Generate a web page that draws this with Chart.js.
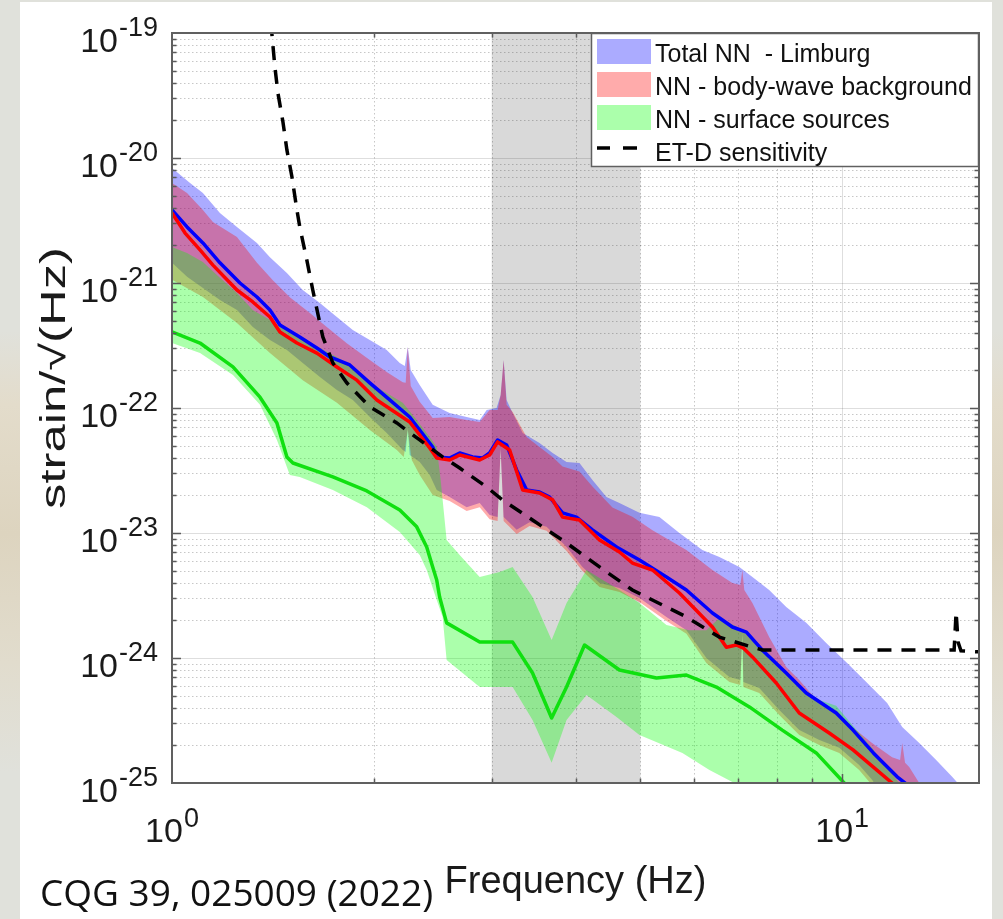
<!DOCTYPE html>
<html>
<head>
<meta charset="utf-8">
<script src="https://cdn.jsdelivr.net/npm/chart.js@4.4.1/dist/chart.umd.min.js"></script>
<style>
  html, body { margin: 0; padding: 0; width: 1003px; height: 919px; overflow: hidden; }
  body {
    background: linear-gradient(180deg, #e0e1db 0%, #e0e1db 36%, #e3dccb 44%, #ddd4bf 58%, #e1dccd 72%, #e0e1db 84%, #e0e1db 100%);
  }
  #panel { position: absolute; left: 20px; top: 2px; width: 972px; height: 917px; background: #ffffff; }
  #plot { position: absolute; left: 0; top: 0; }
</style>
</head>
<body>
<div id="panel"></div>
<canvas id="plot" width="1003" height="919"></canvas>
<script>
// ---- axis ranges and tick exponents ----
const X_MIN = 1, X_MAX = 16;
const Y_MIN = 1e-25, Y_MAX = 1e-19;
const xTickExps = [0, 1];
const yTickExps = [-25, -24, -23, -22, -21, -20, -19];
const bandHz = [3, 5];           // shaded frequency window

const legendLabels = ['Total NN  - Limburg', 'NN - body-wave background', 'NN - surface sources', 'ET-D sensitivity'];

// ---- Total NN (Limburg): median and band ----
const totalHz = [1.0, 1.053, 1.112, 1.179, 1.263, 1.339, 1.400, 1.449, 1.551, 1.645, 1.720, 1.842, 1.973, 2.113,
  2.263, 2.342, 2.449, 2.483, 2.596, 2.687, 2.809, 2.907, 2.978, 3.061, 3.157, 3.268, 3.382, 3.535, 3.660, 3.826,
  4.013, 4.240, 4.605, 4.983, 5.467, 5.855, 6.403, 6.857, 7.196, 7.597, 8.251, 8.838, 9.796, 10.38, 11.13, 12.08, 12.63];
const totalMedian = [3.84e-21, 2.81e-21, 2.09e-21, 1.45e-21, 1.0e-21, 7.73e-22, 6.08e-22, 4.61e-22, 3.70e-22, 3.02e-22,
  2.56e-22, 2.21e-22, 1.59e-22, 1.16e-22, 8.47e-23, 6.67e-23, 4.88e-23, 4.06e-23, 3.98e-23, 4.37e-23, 4.06e-23, 3.98e-23,
  4.37e-23, 5.55e-23, 5.06e-23, 3.19e-23, 2.21e-23, 2.13e-23, 1.94e-23, 1.45e-23, 1.34e-23, 1.06e-23, 7.73e-24, 6.08e-24,
  4.45e-24, 3.50e-24, 2.29e-24, 1.77e-24, 1.61e-24, 1.16e-24, 7.59e-25, 5.25e-25, 3.63e-25, 2.65e-25, 1.74e-25, 1.12e-25, 9.3e-26];

const totalUpperHz = [1.0, 1.064, 1.112, 1.179, 1.250, 1.339, 1.400, 1.484, 1.567, 1.662, 1.762, 1.861, 1.973, 2.091,
  2.187, 2.225, 2.248, 2.271, 2.342, 2.449, 2.596, 2.752, 2.878, 2.948, 3.050, 3.093, 3.125, 3.157, 3.223, 3.336, 3.535,
  3.698, 3.879, 4.055, 4.240, 4.449, 4.652, 4.983, 5.337, 5.716, 6.185, 6.558, 7.023, 7.346, 7.781, 8.251, 8.838, 9.466,
  10.17, 10.90, 11.67, 12.29, 13.03, 13.81, 14.59, 15.20];
const totalUpper = [8.32e-21, 6.31e-21, 5.25e-21, 3.63e-21, 2.81e-21, 2.09e-21, 1.61e-21, 1.20e-21, 8.79e-22, 6.92e-22,
  5.35e-22, 4.21e-22, 3.50e-22, 2.91e-22, 2.29e-22, 2.17e-22, 3.08e-22, 2.01e-22, 1.53e-22, 1.06e-22, 9.12e-23, 8.47e-23,
  8.02e-23, 9.66e-23, 1.0e-22, 1.27e-22, 2.42e-22, 1.16e-22, 9.12e-23, 6.31e-23, 5.25e-23, 4.37e-23, 3.70e-23, 3.63e-23,
  2.65e-23, 1.94e-23, 1.74e-23, 1.45e-23, 1.34e-23, 1.0e-23, 7.31e-24, 6.43e-24, 5.35e-24, 4.45e-24, 3.50e-24, 2.56e-24,
  1.91e-24, 1.32e-24, 9.12e-25, 6.31e-25, 4.37e-25, 2.81e-25, 2.09e-25, 1.53e-25, 1.12e-25, 8.8e-26];

const totalLowerHz = [1.0, 1.053, 1.112, 1.179, 1.250, 1.320, 1.400, 1.484, 1.567, 1.662, 1.762, 1.861, 1.973, 2.091,
  2.210, 2.232, 2.248, 2.263, 2.342, 2.424, 2.483, 2.596, 2.752, 2.878, 2.978, 3.061, 3.093, 3.125, 3.268, 3.416, 3.622,
  3.879, 4.097, 4.344, 4.652, 4.983, 5.467, 5.855, 6.270, 6.786, 7.047, 7.096, 7.120, 7.519, 8.055, 8.628, 9.242, 9.898,
  10.60, 11.08, 11.35];
const totalLower = [1.45e-21, 1.12e-21, 9.12e-22, 7.31e-22, 6.08e-22, 4.45e-22, 3.50e-22, 2.91e-22, 2.29e-22, 1.77e-22,
  1.39e-22, 1.16e-22, 8.47e-23, 6.31e-23, 4.61e-23, 4.45e-23, 6.92e-23, 4.21e-23, 3.70e-23, 2.91e-23, 2.21e-23, 1.94e-23,
  1.61e-23, 1.74e-23, 1.39e-23, 1.34e-23, 4.79e-23, 1.34e-23, 1.06e-23, 1.22e-23, 1.12e-23, 7.73e-24, 5.35e-24, 3.98e-24,
  3.63e-24, 3.02e-24, 2.13e-24, 1.67e-24, 1.0e-24, 7.05e-25, 6.67e-25, 1.585e-24, 6.43e-25, 5.75e-25, 3.84e-25, 2.65e-25,
  2.21e-25, 1.91e-25, 1.39e-25, 1.06e-25, 8.8e-26];

// ---- NN body-wave background: median and band ----
const bodyHz = [1.0, 1.046, 1.101, 1.151, 1.250, 1.320, 1.400, 1.449, 1.536, 1.645, 1.762, 1.887, 2.021, 2.263, 2.424,
  2.483, 2.596, 2.687, 2.878, 2.978, 3.061, 3.190, 3.336, 3.535, 3.698, 3.826, 4.055, 4.344, 4.652, 4.864, 5.211, 5.716,
  6.403, 6.717, 6.952, 7.12, 7.346, 7.973, 8.628, 9.564, 10.38, 11.13, 11.87, 12.16];
const bodyMedian = [3.63e-21, 2.51e-21, 1.84e-21, 1.39e-21, 8.79e-22, 7.05e-22, 5.35e-22, 4.06e-22, 3.31e-22, 2.75e-22,
  2.13e-22, 1.67e-22, 1.16e-22, 7.73e-23, 4.79e-23, 3.98e-23, 3.84e-23, 4.21e-23, 3.84e-23, 4.21e-23, 5.35e-23, 4.61e-23,
  2.21e-23, 2.09e-23, 1.84e-23, 1.34e-23, 1.27e-23, 8.79e-24, 7.05e-24, 5.75e-24, 5.06e-24, 3.31e-24, 1.77e-24, 1.22e-24,
  1.27e-24, 1.20e-24, 1.02e-24, 6.31e-25, 3.63e-25, 2.51e-25, 1.84e-25, 1.34e-25, 1.0e-25, 8.8e-26];

const bodyUpperHz = [1.0, 1.053, 1.112, 1.151, 1.250, 1.339, 1.414, 1.499, 1.606, 1.702, 1.823, 1.973, 2.091, 2.210,
  2.232, 2.248, 2.271, 2.342, 2.449, 2.596, 2.752, 2.878, 2.978, 3.061, 3.093, 3.125, 3.157, 3.223, 3.382, 3.535, 3.698,
  3.826, 4.055, 4.240, 4.542, 4.864, 5.211, 5.855, 6.403, 6.857, 7.047, 7.096, 7.144, 7.346, 7.781, 8.251, 8.628, 9.242,
  9.796, 10.35, 11.08, 11.87, 12.20, 12.29, 12.41, 12.59, 13.03, 13.25];
const bodyUpper = [6.31e-21, 5.25e-21, 3.84e-21, 3.08e-21, 2.33e-21, 1.45e-21, 1.05e-21, 7.7e-22, 5.75e-22, 4.45e-22,
  3.3e-22, 2.42e-22, 1.94e-22, 1.61e-22, 1.59e-22, 3.08e-22, 1.50e-22, 1.12e-22, 8.3e-23, 8.47e-23, 8.02e-23, 7.73e-23,
  9.66e-23, 9.66e-23, 1.27e-22, 2.42e-22, 1.06e-22, 9.29e-23, 5.86e-23, 4.88e-23, 4.06e-23, 3.4e-23, 3.1e-23, 2.35e-23,
  1.6e-23, 1.35e-23, 1.05e-23, 7.31e-24, 5.06e-24, 3.98e-24, 3.84e-24, 5.06e-24, 3.50e-24, 2.75e-24, 1.47e-24, 8.47e-25,
  6.67e-25, 4.37e-25, 3.84e-25, 2.81e-25, 2.09e-25, 1.61e-25, 1.53e-25, 2.09e-25, 1.45e-25, 1.34e-25, 1.0e-25, 8.8e-26];

const bodyLowerHz = [1.0, 1.112, 1.250, 1.400, 1.567, 1.762, 1.973, 2.165, 2.217, 2.248, 2.279, 2.342, 2.449, 2.596,
  2.752, 2.878, 2.978, 3.061, 3.093, 3.125, 3.268, 3.416, 3.622, 3.879, 4.097, 4.344, 4.652, 4.983, 5.467, 5.855, 6.270,
  6.786, 7.047, 7.096, 7.120, 7.519, 8.055, 8.628, 9.242, 9.898, 10.60, 11.08, 11.35];
const bodyLower = [1.06e-21, 7.73e-22, 4.79e-22, 2.75e-22, 1.67e-22, 1.10e-22, 6.67e-23, 4.61e-23, 4.06e-23, 6.67e-23,
  3.84e-23, 2.91e-23, 2.01e-23, 1.80e-23, 1.50e-23, 1.61e-23, 1.29e-23, 1.25e-23, 4.61e-23, 1.25e-23, 9.83e-24, 1.14e-23,
  1.04e-23, 7.18e-24, 4.97e-24, 3.70e-24, 3.37e-24, 2.81e-24, 1.98e-24, 1.56e-24, 9.12e-25, 6.43e-25, 6.08e-25, 1.50e-24,
  5.86e-25, 5.25e-25, 3.50e-25, 2.42e-25, 2.01e-25, 1.74e-25, 1.27e-25, 9.6e-26, 8.5e-26];

// ---- NN surface sources: median and band ----
const surfHz = [1.0, 1.101, 1.233, 1.353, 1.434, 1.484, 1.515, 1.738, 1.953, 2.187, 2.318, 2.399, 2.449, 2.483, 2.508,
  2.569, 2.878, 3.223, 3.451, 3.685, 3.879, 4.126, 4.652, 5.283, 5.855, 6.491, 7.270, 8.139, 9.147, 10.07, 10.3];
const surfMedian = [4.06e-22, 3.31e-22, 2.13e-22, 1.22e-22, 7.59e-23, 4.06e-23, 3.63e-23, 2.81e-23, 2.17e-23, 1.53e-23,
  1.12e-23, 7.73e-24, 5.35e-24, 4.21e-24, 3.08e-24, 1.91e-24, 1.34e-24, 1.34e-24, 7.59e-25, 3.31e-25, 5.86e-25, 1.27e-24,
  8.02e-25, 6.92e-25, 7.31e-25, 5.86e-25, 4.06e-25, 2.65e-25, 1.74e-25, 1.0e-25, 8.8e-26];

const surfUpperHz = [1.0, 1.053, 1.112, 1.179, 1.250, 1.320, 1.400, 1.484, 1.567, 1.662, 1.762, 1.861, 1.973, 2.091,
  2.210, 2.318, 2.424, 2.483, 2.517, 2.569, 2.687, 2.878, 3.082, 3.223, 3.451, 3.685, 3.879, 4.154, 4.344, 4.652, 4.983,
  5.467, 5.915, 6.270, 6.558, 7.023, 7.519, 8.055, 8.628, 9.242, 9.796, 10.35, 11.08, 11.75, 12.16, 12.59];
const surfUpper = [1.94e-21, 1.74e-21, 1.47e-21, 1.10e-21, 8.32e-22, 6.08e-22, 5.06e-22, 4.21e-22, 3.50e-22, 3.02e-22,
  2.56e-22, 2.13e-22, 1.585e-22, 1.32e-22, 1.10e-22, 8.02e-23, 5.86e-23, 4.88e-23, 2.65e-23, 8.79e-24, 6.67e-24, 4.45e-24,
  4.88e-24, 5.35e-24, 3.08e-24, 1.39e-24, 2.75e-24, 5.06e-24, 4.37e-24, 3.50e-24, 2.75e-24, 1.84e-24, 1.67e-24, 1.67e-24,
  2.09e-24, 1.74e-24, 1.27e-24, 8.79e-25, 5.97e-25, 4.61e-25, 4.14e-25, 2.91e-25, 1.91e-25, 1.27e-25, 1.0e-25, 8.5e-26];

const surfLowerHz = [1.0, 1.101, 1.233, 1.353, 1.434, 1.499, 1.551, 1.738, 1.953, 2.187, 2.342, 2.399, 2.483, 2.534,
  2.569, 2.878, 3.223, 3.451, 3.685, 3.879, 4.154, 4.605, 4.983, 5.775, 6.337, 6.857, 7.023];
const surfLower = [3.31e-22, 2.75e-22, 1.84e-22, 1.06e-22, 5.55e-23, 2.91e-23, 2.81e-23, 2.21e-23, 1.61e-23, 1.02e-23,
  6.67e-24, 5.06e-24, 2.91e-24, 2.13e-24, 9.66e-25, 5.86e-25, 5.86e-25, 3.19e-25, 1.45e-25, 3.19e-25, 5.06e-25, 3.37e-25,
  2.42e-25, 1.74e-25, 1.27e-25, 1.02e-25, 8.8e-26];

// ---- ET-D design sensitivity ----
const etdHz = [1.405, 1.409, 1.424, 1.439, 1.464, 1.484, 1.510, 1.536, 1.551, 1.589, 1.622, 1.679, 1.738, 1.823, 1.973,
  2.165, 2.342, 2.534, 2.687, 2.948, 3.113, 3.451, 3.879, 4.344, 4.864, 5.467, 5.855, 6.558, 7.346, 7.597, 14.69, 14.79,
  14.89, 15.04, 16];
const etdStrain = [1.22e-19, 1.0e-19, 5.35e-20, 3.31e-20, 1.94e-20, 1.16e-20, 7.05e-21, 3.84e-21, 2.81e-21, 1.53e-21,
  8.79e-22, 3.70e-22, 2.29e-22, 1.59e-22, 1.02e-22, 7.59e-23, 5.55e-23, 4.06e-23, 3.31e-23, 2.33e-23, 1.84e-23, 1.27e-23,
  8.32e-24, 5.35e-24, 3.50e-24, 2.56e-24, 2.13e-24, 1.47e-24, 1.22e-24, 1.16e-24, 1.16e-24, 2.33e-24, 1.34e-24, 1.14e-24,
  1.12e-24];

// ---- helpers to build Chart.js point lists ----
const pts = (hz, vals) => hz.map((f, i) => ({ x: f, y: vals[i] }));
const polygon = (hzU, vU, hzL, vL) => pts(hzU, vU).concat(pts(hzL, vL).reverse());

const FILL_BLUE = 'rgba(0,0,255,0.33)';
const FILL_RED = 'rgba(255,0,0,0.33)';
const FILL_GREEN = 'rgba(0,255,0,0.33)';
const SANS = '"Liberation Sans", Arial, Helvetica, sans-serif';

const bandStyle = (bg, order) => ({
  fill: 'shape', backgroundColor: bg, borderColor: 'rgba(0,0,0,0)', borderWidth: 0,
  pointRadius: 0, tension: 0, order
});
const lineStyle = (color, order) => ({
  fill: false, borderColor: color, borderWidth: 3.5, pointRadius: 0, tension: 0, order,
  borderJoinStyle: 'round', borderCapStyle: 'round'
});

const datasets = [
  Object.assign({ label: 'window', data: [
    { x: bandHz[0], y: Y_MAX }, { x: bandHz[1], y: Y_MAX }, { x: bandHz[1], y: Y_MIN }, { x: bandHz[0], y: Y_MIN }
  ] }, bandStyle('rgba(0,0,0,0.15)', 20)),
  Object.assign({ label: legendLabels[0], data: polygon(totalUpperHz, totalUpper, totalLowerHz, totalLower) }, bandStyle(FILL_BLUE, 19)),
  Object.assign({ label: legendLabels[1], data: polygon(bodyUpperHz, bodyUpper, bodyLowerHz, bodyLower) }, bandStyle(FILL_RED, 18)),
  Object.assign({ label: legendLabels[2], data: polygon(surfUpperHz, surfUpper, surfLowerHz, surfLower) }, bandStyle(FILL_GREEN, 17)),
  Object.assign({ label: 'surface median', data: pts(surfHz, surfMedian) }, lineStyle('#10e010', 6)),
  Object.assign({ label: 'total median', data: pts(totalHz, totalMedian) }, lineStyle('#0000ff', 5)),
  Object.assign({ label: 'body median', data: pts(bodyHz, bodyMedian) }, lineStyle('#ff0000', 4)),
  Object.assign({ label: legendLabels[3], data: pts(etdHz, etdStrain) },
    lineStyle('#000000', 1), { borderWidth: 3.5, borderDash: [14, 10], borderCapStyle: 'butt', borderJoinStyle: 'miter' })
];

// ---- grid, box, ticks, labels and legend ----
function gridX() {
  const out = [];
  for (let d = 1; d <= 10; d *= 10)
    for (let k = 1; k < 10; k++) {
      const v = k * d;
      if (v > X_MIN && v < X_MAX) out.push({ v, major: k === 1 });
    }
  return out;
}
function gridY() {
  const out = [];
  for (let e = yTickExps[0]; e < yTickExps[yTickExps.length - 1]; e++)
    for (let k = 1; k < 10; k++) {
      if (k === 1 && e === yTickExps[0]) continue;
      out.push({ v: k * Math.pow(10, e), major: k === 1 });
    }
  return out;
}

function drawPower(ctx, exp, x, baseMain, baseSup, align, sizeMain, sizeSup) {
  ctx.font = sizeMain + 'px ' + SANS;
  const w1 = ctx.measureText('10').width;
  ctx.font = sizeSup + 'px ' + SANS;
  const sup = String(exp);
  const w2 = ctx.measureText(sup).width;
  const gap = 1;
  let x0 = align === 'right' ? x - (w1 + gap + w2) : x - (w1 + gap + w2) / 2;
  ctx.textAlign = 'left';
  ctx.textBaseline = 'alphabetic';
  ctx.font = sizeMain + 'px ' + SANS;
  ctx.fillText('10', x0, baseMain);
  ctx.font = sizeSup + 'px ' + SANS;
  ctx.fillText(sup, x0 + w1 + gap, baseSup);
}

const decor = {
  id: 'decor',
  beforeDatasetsDraw(chart) {
    const { ctx, chartArea: a, scales: { x, y } } = chart;
    ctx.save();
    ctx.lineWidth = 1;
    for (const g of gridX()) {
      const px = Math.round(x.getPixelForValue(g.v)) + 0.5;
      ctx.strokeStyle = g.major ? 'rgba(0,0,0,0.13)' : 'rgba(0,0,0,0.22)';
      ctx.setLineDash(g.major ? [] : [1.5, 2.5]);
      ctx.beginPath(); ctx.moveTo(px, a.top); ctx.lineTo(px, a.bottom); ctx.stroke();
    }
    for (const g of gridY()) {
      const py = Math.round(y.getPixelForValue(g.v)) + 0.5;
      ctx.strokeStyle = g.major ? 'rgba(0,0,0,0.13)' : 'rgba(0,0,0,0.22)';
      ctx.setLineDash(g.major ? [] : [1.5, 2.5]);
      ctx.beginPath(); ctx.moveTo(a.left, py); ctx.lineTo(a.right, py); ctx.stroke();
    }
    ctx.restore();
  },
  afterDatasetsDraw(chart) {
    const { ctx, chartArea: a, scales: { x, y } } = chart;
    ctx.save();
    ctx.setLineDash([]);
    // inner tick marks on all four sides
    ctx.strokeStyle = '#5a5a5a';
    ctx.lineWidth = 1.5;
    for (const g of gridY()) {
      const py = Math.round(y.getPixelForValue(g.v)) + 0.5;
      const len = g.major ? 9 : 4.5;
      ctx.beginPath();
      ctx.moveTo(a.left, py); ctx.lineTo(a.left + len, py);
      ctx.moveTo(a.right, py); ctx.lineTo(a.right - len, py);
      ctx.stroke();
    }
    for (const g of gridX()) {
      const px = Math.round(x.getPixelForValue(g.v)) + 0.5;
      const len = g.major ? 9 : 4.5;
      ctx.beginPath();
      ctx.moveTo(px, a.bottom); ctx.lineTo(px, a.bottom - len);
      ctx.moveTo(px, a.top); ctx.lineTo(px, a.top + len);
      ctx.stroke();
    }
    // axes box
    ctx.strokeStyle = '#606060';
    ctx.lineWidth = 2;
    ctx.strokeRect(a.left, a.top, a.right - a.left, a.bottom - a.top);

    // tick labels
    ctx.fillStyle = '#1a1a1a';
    for (const e of yTickExps) {
      const py = y.getPixelForValue(Math.pow(10, e));
      drawPower(ctx, e, a.left - 14, py + 19, py + 3, 'right', 34, 27);
    }
    for (const e of xTickExps) {
      const px = x.getPixelForValue(Math.pow(10, e));
      drawPower(ctx, e, px, a.bottom + 59, a.bottom + 44, 'center', 34, 27);
    }

    // axis titles
    ctx.fillStyle = '#1a1a1a';
    ctx.font = '38px ' + SANS;
    ctx.textAlign = 'center';
    ctx.textBaseline = 'alphabetic';
    ctx.fillText('Frequency (Hz)', (a.left + a.right) / 2, a.bottom + 110);
    ctx.save();
    ctx.translate(65, 378);
    ctx.rotate(-Math.PI / 2);
    ctx.scale(1.45, 1);
    ctx.font = '35px ' + SANS;
    ctx.fillText('strain/\u221A(Hz)', 0, 0);
    ctx.restore();

    // citation
    ctx.fillStyle = '#111';
    ctx.font = '37px "Open Sans", "Noto Sans", sans-serif';
    ctx.textAlign = 'left';
    ctx.fillText('CQG 39, 025009 (2022)', 40, 906);

    // legend
    const lw = 388, lh = 134;
    const lx = a.right - lw, ly = a.top;
    ctx.fillStyle = '#ffffff';
    ctx.fillRect(lx, ly, lw, lh);
    ctx.strokeStyle = '#606060';
    ctx.lineWidth = 1.5;
    ctx.strokeRect(lx + 0.5, ly + 0.5, lw - 1, lh - 1);
    const swatches = [chart.data.datasets[1], chart.data.datasets[2], chart.data.datasets[3]];
    ctx.font = '25px ' + SANS;
    ctx.textAlign = 'left';
    for (let i = 0; i < 4; i++) {
      const rowTop = ly + 6 + i * 33;
      if (i < 3) {
        ctx.fillStyle = swatches[i].backgroundColor;
        ctx.fillRect(lx + 6, rowTop, 54, 25);
      } else {
        ctx.strokeStyle = '#000';
        ctx.lineWidth = 3.5;
        ctx.beginPath();
        ctx.moveTo(lx + 6, rowTop + 10); ctx.lineTo(lx + 19, rowTop + 10);
        ctx.moveTo(lx + 32, rowTop + 10); ctx.lineTo(lx + 46, rowTop + 10);
        ctx.stroke();
      }
      ctx.fillStyle = '#111';
      ctx.fillText(legendLabels[i], lx + 64, ly + 29 + i * 33);
    }
    ctx.restore();
  }
};

new Chart(document.getElementById('plot'), {
  type: 'line',
  data: { datasets },
  options: {
    responsive: false,
    animation: false,
    events: [],
    layout: { padding: { left: 172, top: 33, right: 24, bottom: 136 } },
    plugins: { legend: { display: false }, tooltip: { enabled: false }, title: { display: false } },
    scales: {
      x: { type: 'logarithmic', min: X_MIN, max: X_MAX, display: false },
      y: { type: 'logarithmic', min: Y_MIN, max: Y_MAX, display: false }
    }
  },
  plugins: [decor]
});
</script>
</body>
</html>
